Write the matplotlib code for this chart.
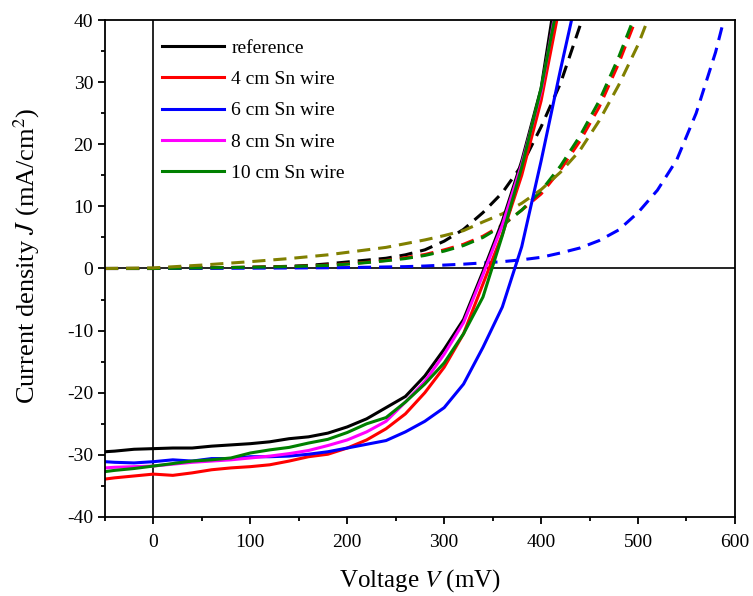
import matplotlib
matplotlib.use("Agg")
import matplotlib.pyplot as plt
from matplotlib.ticker import MultipleLocator
import numpy as np

plt.rcParams["font.family"] = ["Liberation Serif", "DejaVu Serif"]
plt.rcParams["mathtext.fontset"] = "stix"
plt.rcParams["axes.unicode_minus"] = False

# illuminated J-V curves (mV, mA/cm2)
V_light = [-50, -40, -20, 0, 20, 40, 60, 80, 100, 120, 140, 160, 180, 200,
           220, 240, 260, 280, 300, 320, 340, 360, 380, 400, 420, 440]
J_ref = [-29.5, -29.4, -29.1, -29.0, -28.9, -28.9, -28.6, -28.4, -28.2, -27.9,
         -27.4, -27.1, -26.5, -25.5, -24.2, -22.4, -20.6, -17.3, -13.0, -8.2,
         -0.5, 7.6, 17.3, 29.0, 49.0, 70.0]
J_4cm = [-33.9, -33.7, -33.4, -33.1, -33.3, -32.9, -32.4, -32.1, -31.9, -31.6,
         -31.0, -30.3, -29.9, -28.9, -27.6, -25.8, -23.4, -20.0, -15.9, -10.5,
         -2.5, 5.5, 15.0, 27.0, 43.0, 65.0]
J_6cm = [-31.1, -31.2, -31.3, -31.1, -30.8, -31.0, -30.6, -30.6, -30.3, -30.3,
         -30.2, -29.9, -29.5, -28.9, -28.3, -27.7, -26.3, -24.6, -22.4, -18.6,
         -12.7, -6.2, 3.5, 17.3, 32.0, 46.0]
J_8cm = [-32.1, -32.0, -31.9, -31.8, -31.5, -31.2, -31.0, -30.8, -30.5, -30.2,
         -29.8, -29.3, -28.5, -27.6, -26.3, -24.6, -21.5, -18.2, -13.8, -8.7,
         -1.0, 7.0, 16.8, 28.5, 46.0, 68.0]
J_10cm = [-32.7, -32.5, -32.2, -31.8, -31.4, -31.0, -30.8, -30.5, -29.7, -29.2,
          -28.8, -28.1, -27.5, -26.4, -25.0, -24.0, -21.5, -18.6, -15.2, -10.5,
          -4.6, 5.3, 16.3, 29.0, 45.0, 66.0]

# dark J-V curves
V_dark = [-50, 0, 50, 100, 140, 160, 180, 200, 220, 240, 260, 280, 300, 320,
          340, 360, 380, 400, 420, 440, 460, 480, 500, 520, 540, 560, 580, 600]
Jd_ref = [0, 0, 0.1, 0.2, 0.35, 0.5, 0.75, 1.05, 1.35, 1.65, 2.2, 3.0, 4.4, 6.3,
          9.0, 12.2, 16.6, 22.8, 29.8, 39.0, 50, 60, 70, 80, 90, 100, 110, 120]
Jd_4cm = [0, 0, 0.1, 0.2, 0.3, 0.4, 0.55, 0.75, 1.0, 1.3, 1.75, 2.25, 3.0, 3.9,
          5.2, 7.0, 9.4, 12.0, 15.9, 20.5, 26.0, 33.0, 41.0, 50, 60, 70, 80, 90]
Jd_6cm = [0, 0, 0.02, 0.05, 0.08, 0.1, 0.12, 0.15, 0.2, 0.25, 0.3, 0.4, 0.55, 0.7,
          0.9, 1.1, 1.4, 1.8, 2.5, 3.3, 4.5, 6.2, 9.0, 12.6, 17.5, 25.0, 34.8, 47.0]
Jd_10cm = [0, 0, 0.1, 0.2, 0.3, 0.4, 0.5, 0.7, 0.95, 1.25, 1.6, 2.1, 2.8, 3.7,
           5.0, 6.9, 9.4, 12.5, 16.5, 21.3, 27.0, 34.0, 42.0, 50, 60, 70, 80, 90]
Jd_olive = [0, 0.1, 0.55, 1.1, 1.6, 1.9, 2.2, 2.6, 3.0, 3.4, 4.0, 4.6, 5.3, 6.1,
            7.5, 8.8, 10.5, 12.7, 15.5, 19.0, 23.8, 29.5, 36.0, 44.0, 52, 60, 70, 80]

fig = plt.figure(figsize=(7.53, 5.96), dpi=100)
ax = fig.add_axes([0.1394, 0.1326, 0.8366, 0.8338])

dash = (4.3, 2.6)
lw = 2.2
ax.plot(V_dark, Jd_ref, color="black", lw=lw, dashes=dash)
ax.plot(V_dark, Jd_4cm, color="#ff0000", lw=lw, dashes=dash)
ax.plot(V_dark, Jd_6cm, color="#0000ff", lw=lw, dashes=dash)
ax.plot(V_dark, Jd_10cm, color="#008000", lw=lw, dashes=dash)
ax.plot(V_dark, Jd_olive, color="#808000", lw=lw, dashes=dash)

ax.plot(V_light, J_ref, color="black", lw=lw, label="reference")
ax.plot(V_light, J_4cm, color="#ff0000", lw=lw, label="4 cm Sn wire")
ax.plot(V_light, J_6cm, color="#0000ff", lw=lw, label="6 cm Sn wire")
ax.plot(V_light, J_8cm, color="#ff00ff", lw=lw, label="8 cm Sn wire")
ax.plot(V_light, J_10cm, color="#008000", lw=lw, label="10 cm Sn wire")

ax.axhline(0, color="black", lw=1.2, zorder=1)
ax.axvline(0, color="black", lw=1.2, zorder=1)

ax.set_xlim(-50, 600)
ax.set_ylim(-40, 40)
ax.xaxis.set_major_locator(MultipleLocator(100))
ax.xaxis.set_minor_locator(MultipleLocator(50))
ax.yaxis.set_major_locator(MultipleLocator(10))
ax.yaxis.set_minor_locator(MultipleLocator(5))
ax.tick_params(which="major", direction="out", length=5, width=1.3, labelsize=14)
ax.tick_params(axis="x", which="major", pad=7)
ax.tick_params(which="minor", direction="out", length=3, width=1.3)
for s in ax.spines.values():
    s.set_linewidth(1.3)

ax.set_xlabel("Voltage $V$ (mV)", fontsize=18, labelpad=12)
ax.set_ylabel("Current density $J$ (mA/cm$^2$)", fontsize=19)
ax.yaxis.set_label_coords(-0.100, 0.525)

ax.legend(loc="upper left", bbox_to_anchor=(0.205, 0.947), bbox_transform=fig.transFigure,
          frameon=False, fontsize=14, handlelength=3.2, handletextpad=0.35,
          labelspacing=0.7, borderaxespad=0)

fig.savefig("out.png", dpi=100)
